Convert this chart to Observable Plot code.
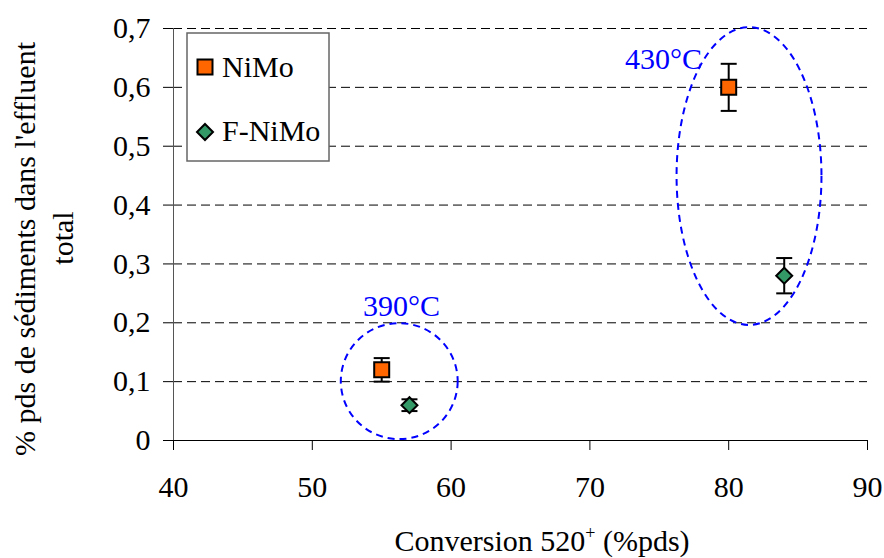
<!DOCTYPE html>
<html>
<head>
<meta charset="utf-8">
<script src="https://cdn.jsdelivr.net/npm/d3@7"></script>
<script src="https://cdn.jsdelivr.net/npm/@observablehq/plot@0.6"></script>
<style>
html, body { margin: 0; padding: 0; background: #fff; overflow: hidden; }
svg { display: block; }
svg text { font-family: "Liberation Serif", "Times New Roman", serif; }
</style>
</head>
<body>
<div id="chart"></div>
<script>
// ---- data ----
const xTicks = [40, 50, 60, 70, 80, 90];
const yTicks = [0, 0.1, 0.2, 0.3, 0.4, 0.5, 0.6, 0.7];
const seriesNames = ["NiMo", "F-NiMo"];
const nimoX = [55, 80];
const nimoY = [0.12, 0.60];
const nimoErr = [0.02, 0.04];
const fnimoX = [57, 84];
const fnimoY = [0.06, 0.28];
const fnimoErr = [0.01, 0.03];
const zoneLabels = ["390°C", "430°C"];
const zoneCx = [56.3, 81.5];
const zoneCy = [0.100, 0.4485];
const zoneRx = [4.21, 5.22];
const zoneRy = [0.0985, 0.253];
const zoneLabelX = [56.43, 75.3];
const zoneLabelY = [0.2287, 0.6483];
const xLabel = ["Conversion 520", "+", " (%pds)"];
const yLabel = ["% pds de sédiments dans l'effluent", "total"];

// ---- tables ----
const points = [
  ...nimoX.map((x, i) => ({series: seriesNames[0], x, y: nimoY[i], err: nimoErr[i]})),
  ...fnimoX.map((x, i) => ({series: seriesNames[1], x, y: fnimoY[i], err: fnimoErr[i]}))
];
const zones = zoneLabels.map((label, i) => ({label, lx: zoneLabelX[i], ly: zoneLabelY[i]}));

const FONT = "'Liberation Serif', 'Times New Roman', serif";
const colors = {"NiMo": "#FF6600", "F-NiMo": "#339966"};
const capSymbol = {draw(ctx) { ctx.moveTo(-8, 0); ctx.lineTo(8, 0); }};
const squareSymbol = {draw(ctx) { ctx.moveTo(-7.5, -7.5); ctx.lineTo(7.5, -7.5); ctx.lineTo(7.5, 7.5); ctx.lineTo(-7.5, 7.5); ctx.closePath(); }};
const diamondSymbol = {draw(ctx) { ctx.moveTo(0, -8); ctx.lineTo(8, 0); ctx.lineTo(0, 8); ctx.lineTo(-8, 0); ctx.closePath(); }};

const ellipseMark = (index, scales) => {
  const {x, y} = scales;
  const g = d3.create("svg:g");
  zoneCx.forEach((cx, i) => {
    g.append("ellipse")
      .attr("cx", x(cx))
      .attr("cy", y(zoneCy[i]))
      .attr("rx", Math.abs(x(cx + zoneRx[i]) - x(cx)))
      .attr("ry", Math.abs(y(zoneCy[i] + zoneRy[i]) - y(zoneCy[i])))
      .attr("fill", "none")
      .attr("stroke", "#0000FF")
      .attr("stroke-width", 2)
      .attr("stroke-dasharray", "7,5");
  });
  return g.node();
};

const chart = Plot.plot({
  width: 884,
  height: 558,
  marginLeft: 173,
  marginRight: 17,
  marginTop: 28,
  marginBottom: 118,
  style: {fontFamily: FONT, fontSize: "30px", background: "#fff", color: "#000"},
  x: {domain: [40, 90], ticks: xTicks, tickSize: 10, tickPadding: 25, label: null},
  y: {domain: [0, 0.7], ticks: yTicks, tickSize: 10, tickPadding: 13, label: null,
      tickFormat: d => String(d).replace(".", ",")},
  marks: [
    Plot.ruleY(yTicks.filter(d => d > 0), {stroke: "#000", strokeWidth: 1, strokeDasharray: "9,5"}),
    Plot.ruleY([0], {stroke: "#000", strokeWidth: 1}),
    Plot.ruleX([40], {stroke: "#555", strokeWidth: 1}),
    ellipseMark,
    Plot.ruleX(points, {x: "x", y1: d => d.y - d.err, y2: d => d.y + d.err, stroke: "#000", strokeWidth: 2}),
    Plot.dot(points, {x: "x", y: d => d.y + d.err, symbol: capSymbol, fill: "none", stroke: "#000", strokeWidth: 2}),
    Plot.dot(points, {x: "x", y: d => d.y - d.err, symbol: capSymbol, fill: "none", stroke: "#000", strokeWidth: 2}),
    Plot.dot(points.filter(d => d.series === "NiMo"), {x: "x", y: "y", symbol: squareSymbol, fill: colors["NiMo"], stroke: "#000", strokeWidth: 2}),
    Plot.dot(points.filter(d => d.series === "F-NiMo"), {x: "x", y: "y", symbol: diamondSymbol, fill: colors["F-NiMo"], stroke: "#000", strokeWidth: 2}),
    Plot.text(zones, {x: "lx", y: "ly", text: "label", fill: "#0000FF", fontSize: 30, textAnchor: "middle"})
  ]
});

const svg = d3.select(chart);

// x axis title
const xt = svg.append("text")
  .attr("x", 542).attr("y", 551)
  .attr("text-anchor", "middle")
  .attr("font-family", FONT).attr("font-size", 30)
  .attr("fill", "#000");
xt.append("tspan").text(xLabel[0]);
xt.append("tspan").attr("font-size", 18).attr("dy", -12).text(xLabel[1]);
xt.append("tspan").attr("dy", 12).text(xLabel[2]);

// y axis title (two lines)
svg.append("text")
  .attr("transform", "translate(35,249) rotate(-90)")
  .attr("text-anchor", "middle").attr("fill", "#000")
  .attr("font-family", FONT).attr("font-size", 30)
  .text(yLabel[0]);
svg.append("text")
  .attr("transform", "translate(73,238) rotate(-90)")
  .attr("text-anchor", "middle").attr("fill", "#000")
  .attr("font-family", FONT).attr("font-size", 30)
  .text(yLabel[1]);

// legend
const lg = svg.append("g");
lg.append("rect").attr("x", 187).attr("y", 33).attr("width", 142).attr("height", 128)
  .attr("fill", "#fff").attr("stroke", "#666").attr("stroke-width", 1.5);
lg.append("path").attr("d", d3.symbol(squareSymbol)()).attr("transform", "translate(205,67)")
  .attr("fill", colors["NiMo"]).attr("stroke", "#000").attr("stroke-width", 2);
lg.append("path").attr("d", d3.symbol(diamondSymbol)()).attr("transform", "translate(205,132)")
  .attr("fill", colors["F-NiMo"]).attr("stroke", "#000").attr("stroke-width", 2);
lg.append("text").attr("x", 222).attr("y", 77).attr("text-anchor", "start")
  .attr("font-family", FONT).attr("font-size", 30).attr("fill", "#000").text(seriesNames[0]);
lg.append("text").attr("x", 222).attr("y", 141).attr("text-anchor", "start")
  .attr("font-family", FONT).attr("font-size", 30).attr("fill", "#000").text(seriesNames[1]);

document.getElementById("chart").appendChild(chart);
</script>
</body>
</html>
